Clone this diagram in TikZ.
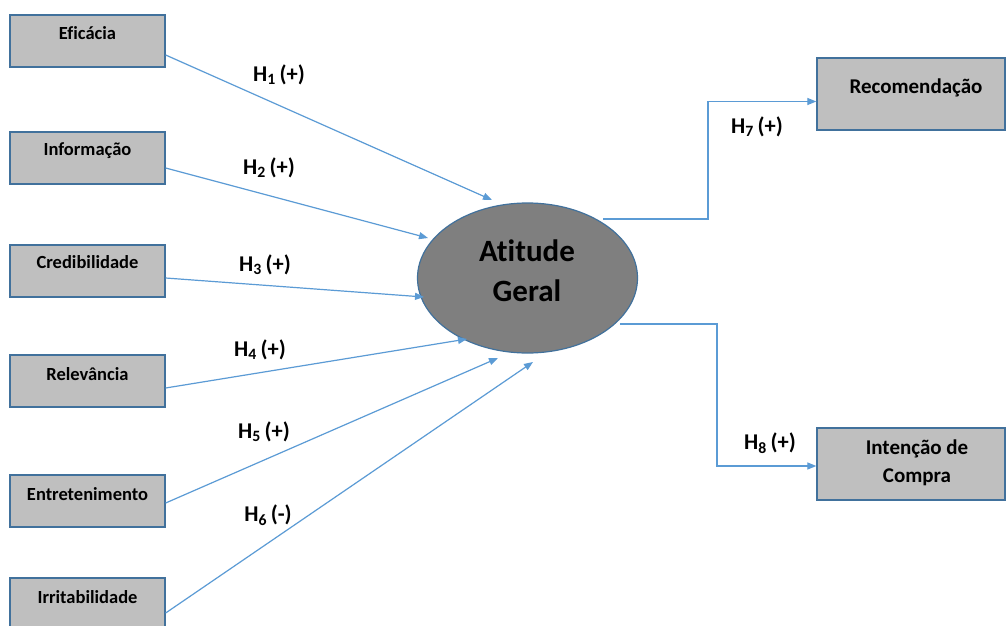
\documentclass[tikz,border=0pt]{standalone}
\usepackage{fontspec}
\setmainfont{Carlito}[RawFeature=-liga]
\usetikzlibrary{arrows.meta,shapes.geometric}
\definecolor{boxfill}{HTML}{BFBFBF}
\definecolor{boxline}{HTML}{41719C}
\definecolor{arrowc}{HTML}{5B9BD5}
\definecolor{ellfill}{HTML}{7F7F7F}
\tikzset{
  lbox/.style={draw=boxline, line width=1.3pt, fill=boxfill, minimum width=155pt, minimum height=52pt, inner sep=0pt},
  rbox/.style={draw=boxline, line width=1.3pt, fill=boxfill, minimum width=188pt, minimum height=72pt, inner sep=0pt},
  ltext/.style={font=\fontsize{18.5}{22}\selectfont\bfseries, inner sep=0pt},
  rtext/.style={font=\fontsize{21}{28}\selectfont\bfseries, align=center, inner sep=0pt},
  hlab/.style={font=\fontsize{22.5}{26}\selectfont\bfseries, inner sep=0pt},
  conn/.style={draw=arrowc, line width=1.2pt, -{Triangle[length=9pt,width=7pt]}}
}
\begin{document}
\begin{tikzpicture}[x=1pt,y=-1pt]
\clip (0,0) rectangle (1006,626);
\fill[white] (0,0) rectangle (1006,626);

% left boxes
\node[lbox] (efi) at (87.5,41) {};
\node[ltext] (efit) at (87.5,33) {Eficácia};
\node[lbox] (inf) at (87.5,158) {};
\node[ltext] (inft) at (87.5,151) {Informação};
\node[lbox] (cre) at (87.5,271) {};
\node[ltext] (cret) at (87.5,262) {Credibilidade};
\node[lbox] (rel) at (87.5,381) {};
\node[ltext] (relt) at (87.5,374) {Relevância};
\node[lbox] (ent) at (87.5,501) {};
\node[ltext] (entt) at (87.5,494) {Entretenimento};
\node[lbox] (irr) at (87.5,604) {};
\node[ltext] (irrt) at (87.5,597) {Irritabilidade};

% ellipse
\node[ellipse, draw=boxline, line width=1.2pt, fill=ellfill, minimum width=220pt, minimum height=150pt, inner sep=0pt] (ag) at (527.5,278) {};
\node[font=\fontsize{31}{40}\selectfont\bfseries, align=center, inner sep=0pt] (agt) at (527,271) {Atitude\\Geral};

% right boxes
\node[rbox] (rec) at (911,94) {};
\node[rtext] (rect) at (916,88) {Recomendação};
\node[rbox] (int) at (911,464) {};
\node[rtext] (intt) at (917,463) {Intenção de\\Compra};

% coordinates for connector ends
\coordinate (e1) at (492,200);
\coordinate (e2) at (428,238);
\coordinate (e3) at (424,297);
\coordinate (e4) at (467,339);
\coordinate (e5) at (498,358);
\coordinate (e6) at (533,362);

\draw[conn] (efi.east |- 0,55) -- (e1);
\draw[conn] (inf.east |- 0,168) -- (e2);
\draw[conn] (cre.east |- 0,278) -- (e3);
\draw[conn] (rel.east |- 0,388) -- (e4);
\draw[conn] (ent.east |- 0,503) -- (e5);
\draw[conn] (irr.east |- 0,613) -- (e6);

\coordinate (s7) at (603,219);
\coordinate (s8) at (620,324);
\draw[conn] (s7) -- (708,219) -- (708,101.5) -- (rec.west |- 0,101.5);
\draw[conn] (s8) -- (717,324) -- (717,466) -- (int.west |- 0,466);

% labels
\node[hlab] (h1) at (279,75) {H\textsubscript{1}\,(+)};
\node[hlab] (h2) at (269,168) {H\textsubscript{2}\,(+)};
\node[hlab] (h3) at (265,265) {H\textsubscript{3}\,(+)};
\node[hlab] (h4) at (260,350) {H\textsubscript{4}\,(+)};
\node[hlab] (h5) at (264,432) {H\textsubscript{5}\,(+)};
\node[hlab] (h6) at (268,515) {H\textsubscript{6}\,(-)};
\node[hlab] (h7) at (757,127) {H\textsubscript{7}\,(+)};
\node[hlab] (h8) at (770,443) {H\textsubscript{8}\,(+)};
\end{tikzpicture}
\end{document}
